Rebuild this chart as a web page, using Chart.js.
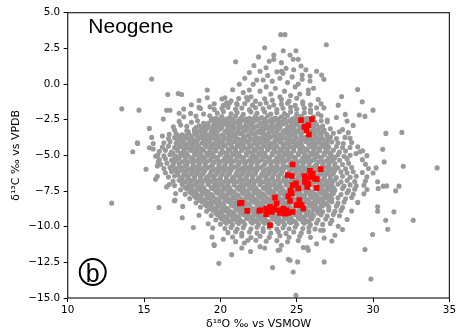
<!DOCTYPE html>
<html><head><meta charset="utf-8">
<script src="https://cdn.jsdelivr.net/npm/chart.js@4/dist/chart.umd.min.js"></script>
<style>html,body{margin:0;padding:0;background:#fff;}canvas{display:block;}</style>
</head><body>
<canvas id="c" width="458" height="331"></canvas>
<script>
const xTicks = [10, 15, 20, 25, 30, 35];
const yTicks = [5, 2.5, 0, -2.5, -5, -7.5, -10, -12.5, -15];
const panelTitle = 'Neogene';
const panelLetter = 'b';
const xTitle = 'δ¹⁸O ‰ vs VSMOW';
const yTitle = 'δ¹³C ‰ vs VPDB';

const greyUpper = [
[23.95,3.46],[24.23,3.46],[26.94,2.75],[22.9,2.54],[24.12,2.33],[24.95,2.33],[23.5,2.03],[23.5,1.73],[24.56,2.03],[24.77,1.73],[25.1,1.73],[23.2,1.6],[24.0,1.5],[21.0,1.56],[25.28,1.26],[22.99,1.14],[23.7,0.86],[24.0,0.9],[24.1,0.75],[25.36,0.63],[25.36,0.33],[25.87,0.56],[25.87,0.21],[26.63,0.63],[26.78,0.33],[22.38,0.28],[22.8,0.28],[15.5,0.35],[21.24,-0.02],[22.15,-0.02],[21.9,-0.42],[19.14,-0.42],[19.14,-0.96],[20.3,-0.96],[17.24,-0.66],[17.46,-0.73],[16.55,-0.73],[13.54,-1.74],[14.67,-1.83],[28.99,-0.38],[25.76,-0.42],[25.76,-0.66],[27.94,-0.87],[26.41,-1.08],[29.29,-1.25],[27.72,-1.48],[25.39,-1.25],[26.78,-1.67],[30.0,-1.83],[28.18,-2.13],[29.1,-2.18],[29.47,-2.27],[27.0,-2.53],
[22.2,1.3],[22.6,0.9],[23.1,0.6],[23.4,0.2],[23.9,0.4],[24.4,0.1],[24.7,0.5],[24.3,1.1],[23.0,-0.2],[23.6,-0.3],[24.9,-0.2],[22.6,-0.5],[24.2,-0.5],[25.1,0.0],[21.6,0.4],[21.9,0.8],[23.3,-0.7],[24.6,-0.8],[22.0,-0.9],[23.9,-0.9],[25.2,-0.7],[21.5,-0.6],[20.8,-0.4],[24.8,1.0],[22.5,1.9],[25.6,1.0],[26.1,-0.3],[26.3,0.9],[18.05,-2.06],[18.6,-1.64],[19.32,-1.6],[20.41,-1.32],[21.07,-1.36],[21.72,-0.94],[16.48,-1.84],[16.26,-2.46],[15.35,-3.11],[16.2,-3.65],[16.92,-3.0],[14.56,-4.12],[14.26,-4.75]
];

const greyCoreA = [
[18.6,-1.15],[20.1,-1.05],[20.7,-1.18],[21.2,-1.02],[21.8,-1.12],[22.3,-1.2],[22.9,-1.04],[23.4,-1.14],[24.0,-1.08],[24.5,-1.19],[25.0,-1.0],
[18.1,-1.45],[19.6,-1.38],[20.2,-1.5],[20.6,-1.33],[21.1,-1.44],[21.6,-1.36],[22.1,-1.48],[22.6,-1.4],[23.0,-1.31],[23.5,-1.47],[24.0,-1.42],[24.4,-1.35],[24.9,-1.5],[25.4,-1.4],[25.9,-1.46],[26.6,-1.38],
[16.7,-1.84],[17.6,-1.75],[18.7,-1.72],[19.6,-1.78],[20.1,-1.7],[20.5,-1.62],[21.0,-1.76],[21.4,-1.68],[21.9,-1.8],[22.3,-1.66],[22.8,-1.74],[23.2,-1.61],[23.7,-1.79],[24.1,-1.7],[24.6,-1.64],[25.0,-1.77],[25.5,-1.69],[25.9,-1.8],[26.3,-1.66],
[17.3,-2.05],[18.9,-2.1],[19.8,-2.04],[20.2,-1.93],[20.7,-2.08],[21.1,-2.0],[21.5,-2.12],[22.0,-1.96],[22.4,-2.05],[22.9,-1.94],[23.3,-2.1],[23.7,-2.0],[24.2,-2.07],[24.6,-1.95],[25.0,-2.1],[25.5,-2.02],[25.9,-1.97],[26.4,-2.08],
[17.6,-2.3],[18.4,-2.25],[19.3,-2.22],[19.7,-2.4],[20.1,-2.28],[20.6,-2.36],[21.0,-2.24],[21.4,-2.33],[21.9,-2.4],[22.3,-2.26],[22.7,-2.35],[23.1,-2.23],[23.6,-2.38],[24.0,-2.3],[24.4,-2.21],[24.9,-2.36],[25.3,-2.27],[25.7,-2.4],[26.1,-2.3],[26.6,-2.22],[27.6,-2.35],
[17.3,-2.62],[18.1,-2.68],[18.5,-2.58],[19.4,-2.53],[19.8,-2.64],[20.2,-2.57],[20.6,-2.7],[21.1,-2.6],[21.5,-2.52],[21.9,-2.65],[22.3,-2.56],[22.8,-2.68],[23.2,-2.59],[23.6,-2.51],[24.0,-2.66],[24.5,-2.58],[24.9,-2.7],[25.3,-2.6],[25.7,-2.55],[26.2,-2.67],[26.6,-2.57],[27.0,-2.65],[28.3,-2.6],
[17.4,-2.88],[17.8,-2.96],[18.6,-2.93],[19.0,-2.86],[19.5,-2.97],[19.9,-2.9],[20.3,-2.82],[20.7,-2.95],[21.2,-2.87],[21.6,-2.98],[22.0,-2.85],[22.4,-2.94],[22.9,-2.83],[23.3,-2.96],[23.7,-2.89],[24.1,-2.8],[24.6,-2.95],[25.0,-2.86],[25.4,-2.98],[25.8,-2.9],[26.3,-2.84],[26.7,-2.95],[28.7,-2.9],
[17.0,-3.22],[17.8,-3.27],[18.3,-3.18],[18.7,-3.25],[19.1,-3.12],[19.5,-3.24],[20.0,-3.16],[20.4,-3.28],[20.8,-3.2],[21.2,-3.11],[21.7,-3.24],[22.1,-3.17],[22.5,-3.28],[22.9,-3.13],[23.4,-3.22],[23.8,-3.15],[24.2,-3.27],[24.6,-3.18],[25.1,-3.24],[25.5,-3.12],[26.0,-3.26],[26.4,-3.17],[26.8,-3.23],[27.2,-3.14],[28.0,-3.2],
[15.5,-3.74],[16.65,-3.53],[17.1,-3.47],[17.5,-3.56],[17.9,-3.45],[18.4,-3.54],[18.8,-3.43],[19.2,-3.57],[19.6,-3.48],[20.1,-3.58],[20.5,-3.44],[20.9,-3.55],[21.3,-3.46],[21.8,-3.57],[22.2,-3.5],[22.6,-3.42],[23.0,-3.55],[23.5,-3.47],[23.9,-3.58],[24.3,-3.45],[24.7,-3.53],[25.2,-3.44],[26.0,-3.55],[26.5,-3.46],[26.96,-3.51],[27.4,-3.45],[27.79,-3.35],[28.38,-3.41],[30.84,-3.46],[31.89,-3.39],
[14.58,-4.17],[15.6,-4.17],[16.6,-3.82],[17.0,-3.76],[17.4,-3.86],[17.8,-3.78],[18.2,-3.88],[18.7,-3.74],[19.1,-3.84],[19.5,-3.77],[19.9,-3.88],[20.4,-3.79],[20.8,-3.72],[21.2,-3.85],[21.6,-3.76],[22.1,-3.87],[22.5,-3.78],[22.9,-3.84],[23.3,-3.73],[23.8,-3.86],[24.2,-3.77],[24.6,-3.88],[25.0,-3.8],[25.5,-3.75],[25.9,-3.86],[26.3,-3.78],[26.7,-3.85],[27.2,-3.74],[27.6,-3.83],[28.16,-3.74],[28.49,-3.81],
[16.3,-4.12],[16.7,-4.04],[17.1,-4.15],[17.5,-4.07],[17.9,-4.18],[18.3,-4.05],[18.8,-4.14],[19.2,-4.06],[19.6,-4.17],[20.0,-4.08],[20.5,-4.15],[20.9,-4.03],[21.3,-4.13],[21.7,-4.06],[22.2,-4.17],[22.6,-4.09],[23.0,-4.02],[23.4,-4.14],[23.9,-4.07],[24.3,-4.16],[24.7,-4.05],[25.1,-4.12],[25.6,-4.04],[26.0,-4.15],[26.4,-4.08],[26.8,-4.17],[27.3,-4.06],[27.7,-4.13],[28.05,-4.17],[28.6,-4.1],
[15.35,-4.47],[15.6,-4.56],[16.2,-4.42],[16.6,-4.36],[17.0,-4.46],[17.4,-4.38],[17.8,-4.48],[18.2,-4.35],[18.6,-4.44],[19.1,-4.37],[19.5,-4.47],[19.9,-4.4],[20.3,-4.33],[20.8,-4.45],[21.2,-4.36],[21.6,-4.48],[22.0,-4.39],[22.5,-4.46],[22.9,-4.35],[23.3,-4.44],[23.7,-4.37],[24.2,-4.48],[24.6,-4.4],[25.0,-4.33],[25.4,-4.46],[25.9,-4.38],[26.3,-4.47],[26.7,-4.36],[27.1,-4.44],[27.6,-4.38],[28.0,-4.45],[28.49,-4.45],[29.0,-4.4],[30.63,-4.57]
];

const greyCoreB = [
[16.0,-4.72],[16.4,-4.65],[16.8,-4.76],[17.2,-4.67],[17.6,-4.78],[18.1,-4.66],[18.5,-4.74],[18.9,-4.64],[19.3,-4.77],[19.7,-4.69],[20.2,-4.78],[20.6,-4.65],[21.0,-4.73],[21.4,-4.66],[21.9,-4.77],[22.3,-4.68],[22.7,-4.75],[23.1,-4.63],[23.6,-4.74],[24.0,-4.67],[24.4,-4.78],[24.8,-4.69],[25.3,-4.75],[25.7,-4.64],[26.1,-4.76],[26.5,-4.68],[27.0,-4.74],[27.4,-4.65],[27.8,-4.77],[28.2,-4.7],[28.88,-4.87],[29.14,-4.75],[29.32,-4.68],
[15.76,-5.06],[15.9,-4.98],[16.3,-5.04],[16.7,-4.95],[17.1,-5.07],[17.5,-4.97],[17.9,-5.05],[18.4,-4.94],[18.8,-5.06],[19.2,-4.98],[19.6,-5.08],[20.0,-4.96],[20.5,-5.03],[20.9,-4.94],[21.3,-5.07],[21.7,-4.99],[22.2,-5.05],[22.6,-4.95],[23.0,-5.08],[23.4,-4.97],[23.9,-5.04],[24.3,-4.96],[24.7,-5.07],[25.1,-4.98],[25.6,-5.05],[26.0,-4.94],[26.4,-5.06],[26.8,-4.97],[27.3,-5.04],[27.7,-4.95],[28.1,-5.07],[28.5,-4.99],[29.6,-5.02],
[15.93,-5.46],[16.0,-5.3],[16.4,-5.24],[16.8,-5.35],[17.2,-5.26],[17.7,-5.36],[18.1,-5.25],[18.5,-5.33],[18.9,-5.23],[19.3,-5.36],[19.8,-5.27],[20.2,-5.34],[20.6,-5.24],[21.0,-5.37],[21.5,-5.28],[21.9,-5.35],[22.3,-5.25],[22.7,-5.33],[23.2,-5.22],[23.6,-5.36],[24.0,-5.27],[24.4,-5.34],[24.9,-5.25],[25.3,-5.37],[25.7,-5.28],[26.1,-5.33],[26.6,-5.24],[27.0,-5.35],[27.4,-5.27],[27.8,-5.34],[28.3,-5.25],[29.3,-5.3],[30.73,-5.46],
[15.87,-5.74],[16.1,-5.62],[16.5,-5.55],[16.9,-5.66],[17.3,-5.57],[17.8,-5.67],[18.2,-5.54],[18.6,-5.64],[19.0,-5.56],[19.5,-5.67],[19.9,-5.58],[20.3,-5.65],[20.7,-5.53],[21.2,-5.64],[21.6,-5.57],[22.0,-5.68],[22.4,-5.55],[22.9,-5.63],[23.3,-5.54],[23.7,-5.66],[24.1,-5.58],[24.6,-5.65],[25.0,-5.55],[25.4,-5.67],[25.8,-5.57],[26.3,-5.64],[26.7,-5.53],[27.1,-5.66],[27.5,-5.58],[28.0,-5.64],[28.4,-5.56],[29.5,-5.62],[31.98,-5.76],[34.2,-5.88],
[15.13,-5.97],[16.3,-5.92],[16.7,-5.85],[17.1,-5.96],[17.5,-5.87],[18.0,-5.95],[18.4,-5.84],[18.8,-5.94],[19.2,-5.86],[19.7,-5.97],[20.1,-5.88],[20.5,-5.95],[20.9,-5.83],[21.4,-5.93],[21.8,-5.86],[22.2,-5.97],[22.6,-5.85],[23.1,-5.94],[23.5,-5.87],[23.9,-5.96],[24.3,-5.84],[24.8,-5.93],[25.2,-5.86],[25.6,-5.95],[26.0,-5.88],[26.5,-5.94],[26.9,-5.83],[27.3,-5.96],[27.7,-5.87],[28.2,-5.94],[28.6,-5.86],[29.7,-5.92],[30.2,-5.88],
[16.4,-6.22],[16.8,-6.14],[17.2,-6.25],[17.7,-6.16],[18.1,-6.27],[18.5,-6.15],[18.9,-6.24],[19.4,-6.13],[19.8,-6.26],[20.2,-6.17],[20.6,-6.25],[21.1,-6.14],[21.5,-6.23],[21.9,-6.16],[22.3,-6.27],[22.8,-6.15],[23.2,-6.24],[23.6,-6.13],[24.0,-6.26],[24.5,-6.17],[24.9,-6.25],[25.3,-6.15],[25.7,-6.23],[26.2,-6.14],[26.6,-6.26],[27.0,-6.17],[27.4,-6.25],[27.9,-6.16],[28.3,-6.23],[28.7,-6.15],[29.3,-6.2],[30.0,-6.24],
[15.87,-6.46],[15.76,-6.67],[16.6,-6.52],[17.0,-6.45],[17.4,-6.56],[17.8,-6.47],[18.3,-6.55],[18.7,-6.44],[19.1,-6.54],[19.5,-6.46],[20.0,-6.57],[20.4,-6.48],[20.8,-6.55],[21.2,-6.43],[21.7,-6.53],[22.1,-6.46],[22.5,-6.57],[22.9,-6.45],[23.4,-6.54],[23.8,-6.47],[24.2,-6.56],[24.6,-6.44],[25.1,-6.53],[25.5,-6.46],[25.9,-6.55],[26.3,-6.48],[26.8,-6.54],[27.2,-6.43],[27.6,-6.56],[28.0,-6.47],[28.5,-6.54],[28.9,-6.46],[29.6,-6.5],
[16.9,-6.82],[17.3,-6.75],[17.7,-6.86],[18.1,-6.77],[18.5,-6.85],[19.0,-6.74],[19.4,-6.84],[19.8,-6.76],[20.2,-6.87],[20.7,-6.78],[21.1,-6.85],[21.5,-6.73],[21.9,-6.83],[22.4,-6.76],[22.8,-6.87],[23.2,-6.75],[23.6,-6.84],[24.1,-6.77],[24.5,-6.86],[24.9,-6.74],[25.3,-6.83],[25.8,-6.76],[26.2,-6.85],[26.6,-6.78],[27.0,-6.84],[27.5,-6.73],[27.9,-6.86],[28.3,-6.77],[28.8,-6.83],[29.5,-6.8],[30.3,-6.85],
[16.48,-7.21],[16.65,-7.04],[17.0,-7.12],[17.5,-7.05],[17.9,-7.16],[18.3,-7.07],[18.7,-7.15],[19.2,-7.04],[19.6,-7.14],[20.0,-7.06],[20.4,-7.17],[20.9,-7.08],[21.3,-7.15],[21.7,-7.03],[22.1,-7.13],[22.6,-7.06],[23.0,-7.17],[23.4,-7.05],[23.8,-7.14],[24.3,-7.07],[24.7,-7.16],[25.1,-7.04],[25.5,-7.13],[26.0,-7.06],[26.4,-7.15],[26.8,-7.08],[27.2,-7.14],[27.7,-7.03],[28.1,-7.16],[28.5,-7.07],[28.9,-7.13],[29.4,-7.1],[30.67,-7.16],[30.89,-7.14],[31.7,-7.16],
[17.4,-7.42],[17.8,-7.35],[18.2,-7.46],[18.6,-7.37],[19.0,-7.45],[19.5,-7.34],[19.9,-7.44],[20.3,-7.36],[20.7,-7.47],[21.2,-7.38],[21.6,-7.45],[22.0,-7.33],[22.4,-7.43],[22.9,-7.36],[23.3,-7.47],[23.7,-7.35],[24.1,-7.44],[24.6,-7.37],[25.0,-7.46],[25.4,-7.34],[25.8,-7.43],[26.3,-7.36],[26.7,-7.45],[27.1,-7.38],[27.5,-7.44],[28.0,-7.33],[28.4,-7.46],[28.8,-7.37],[29.6,-7.4],[30.34,-7.32],[31.48,-7.49],
[17.07,-7.67],[17.7,-7.72],[18.1,-7.65],[18.5,-7.76],[18.9,-7.67],[19.4,-7.75],[19.8,-7.64],[20.2,-7.74],[20.6,-7.66],[21.1,-7.77],[21.5,-7.68],[21.9,-7.75],[22.3,-7.63],[22.8,-7.73],[23.2,-7.66],[23.6,-7.77],[24.0,-7.65],[24.5,-7.74],[24.9,-7.67],[25.3,-7.76],[25.7,-7.64],[26.2,-7.73],[26.6,-7.66],[27.0,-7.75],[27.4,-7.68],[27.9,-7.74],[28.3,-7.63],[28.7,-7.73],[29.4,-7.7]
];

const greyCoreC = [
[17.03,-8.14],[18.0,-8.02],[18.4,-7.95],[18.8,-8.06],[19.2,-7.97],[19.7,-8.05],[20.1,-7.94],[20.5,-8.04],[20.9,-7.96],[21.4,-8.07],[21.8,-7.98],[22.2,-8.05],[22.6,-7.93],[23.1,-8.03],[23.5,-7.96],[23.9,-8.07],[24.3,-7.95],[24.8,-8.04],[25.2,-7.97],[25.6,-8.06],[26.0,-7.94],[26.5,-8.03],[26.9,-7.96],[27.3,-8.05],[27.7,-7.98],[28.2,-8.04],[28.6,-7.95],
[12.88,-8.35],[16.98,-8.19],[18.4,-8.32],[18.8,-8.25],[19.2,-8.36],[19.6,-8.27],[20.0,-8.35],[20.5,-8.24],[20.9,-8.34],[21.3,-8.26],[21.7,-8.37],[22.2,-8.28],[22.6,-8.35],[23.0,-8.23],[23.4,-8.33],[23.9,-8.26],[24.3,-8.37],[24.7,-8.25],[25.1,-8.34],[25.6,-8.27],[26.0,-8.36],[26.4,-8.24],[26.8,-8.33],[27.3,-8.26],[27.7,-8.35],[28.1,-8.27],[29.0,-8.3],
[15.98,-8.66],[17.53,-8.58],[18.7,-8.62],[19.1,-8.55],[19.5,-8.66],[19.9,-8.57],[20.3,-8.65],[20.8,-8.54],[21.2,-8.64],[21.6,-8.56],[22.0,-8.67],[22.5,-8.58],[22.9,-8.65],[23.3,-8.53],[23.7,-8.63],[24.2,-8.56],[24.6,-8.67],[25.0,-8.55],[25.4,-8.64],[25.9,-8.57],[26.3,-8.66],[26.7,-8.54],[27.1,-8.63],[27.6,-8.56],[28.0,-8.65],[30.3,-8.61],
[19.1,-8.92],[19.5,-8.85],[19.9,-8.96],[20.3,-8.87],[20.7,-8.95],[21.2,-8.84],[21.6,-8.94],[22.0,-8.86],[22.4,-8.97],[22.9,-8.88],[23.3,-8.95],[23.7,-8.83],[24.1,-8.93],[24.6,-8.86],[25.0,-8.97],[25.4,-8.85],[25.8,-8.94],[26.3,-8.87],[26.7,-8.96],[27.1,-8.84],[27.5,-8.93],[27.9,-8.86],[28.6,-8.9],[30.3,-8.92],[31.37,-8.96],
[17.5,-9.37],[18.6,-9.2],[19.4,-9.22],[19.8,-9.15],[20.2,-9.26],[20.6,-9.17],[21.0,-9.25],[21.5,-9.14],[21.9,-9.24],[22.3,-9.16],[22.7,-9.27],[23.2,-9.18],[23.6,-9.25],[24.0,-9.13],[24.4,-9.23],[24.9,-9.16],[25.3,-9.27],[25.7,-9.15],[26.1,-9.24],[26.6,-9.17],[27.0,-9.26],[27.4,-9.14],[27.8,-9.23],
[19.7,-9.52],[20.1,-9.45],[20.5,-9.56],[20.9,-9.47],[21.3,-9.55],[21.8,-9.44],[22.2,-9.54],[22.6,-9.46],[23.0,-9.57],[23.5,-9.48],[23.9,-9.55],[24.3,-9.43],[24.7,-9.53],[25.2,-9.46],[25.6,-9.57],[26.0,-9.45],[26.4,-9.54],[26.9,-9.47],[27.3,-9.56],[28.3,-9.5],[30.83,-9.55],[32.63,-9.55],
[19.2,-9.8],[20.0,-9.82],[20.4,-9.75],[20.8,-9.86],[21.2,-9.77],[21.6,-9.85],[22.1,-9.74],[22.5,-9.84],[22.9,-9.76],[23.3,-9.87],[23.8,-9.78],[24.2,-9.85],[24.6,-9.73],[25.0,-9.83],[25.5,-9.76],[25.9,-9.87],[26.3,-9.75],[26.7,-9.84],[27.2,-9.77],[27.72,-9.97],
[18.23,-10.06],[19.5,-10.1],[20.3,-10.12],[20.7,-10.05],[21.1,-10.16],[21.5,-10.07],[22.0,-10.15],[22.4,-10.04],[22.8,-10.14],[23.2,-10.06],[23.7,-10.17],[24.1,-10.08],[24.5,-10.15],[24.9,-10.03],[25.4,-10.13],[25.8,-10.06],[26.2,-10.16],[26.57,-10.25],[26.74,-10.25],[30.96,-10.18],
[20.5,-10.42],[21.0,-10.35],[21.4,-10.46],[21.9,-10.37],[22.4,-10.45],[22.8,-10.34],[23.3,-10.44],[23.8,-10.36],[24.3,-10.47],[24.8,-10.38],[25.3,-10.45],[25.8,-10.35],[29.97,-10.55],
[19.45,-10.72],[20.19,-10.88],[20.8,-10.72],[21.4,-10.65],[22.0,-10.76],[22.6,-10.67],[23.2,-10.75],[23.9,-10.64],[24.5,-10.74],[25.2,-10.66],[25.9,-10.75],[26.8,-10.79]
];

// dense core, read row by row: [y, [x values]]
const greyFillRows = [
[-2.45, [19.5,19.9,20.4,20.8,21.3,21.7,22.1,22.5,22.9,23.4,23.8,24.2,24.7,25.1,25.5]],
[-2.75, [18.9,19.2,19.6,20.0,20.4,20.9,21.3,21.7,22.1,22.6,23.0,23.4,23.8,24.3,24.7,25.1,25.5,26.0]],
[-3.05, [18.4,18.8,19.2,19.7,20.1,20.5,20.9,21.4,21.8,22.2,22.7,23.1,23.5,23.9,24.4,24.8,25.2,26.1,26.5]],
[-3.35, [17.9,18.3,18.6,19.0,19.4,19.8,20.3,20.7,21.1,21.5,22.0,22.4,22.8,23.2,23.7,24.1,24.5,24.9,25.4,26.2,26.7]],
[-3.65, [17.3,17.7,18.1,18.5,18.9,19.3,19.8,20.2,20.6,21.0,21.5,21.9,22.3,22.8,23.2,23.6,24.0,24.5,24.9,25.3,25.7,26.2,26.6,27.0]],
[-3.95, [17.2,17.6,18.0,18.5,18.9,19.3,19.7,20.2,20.6,21.0,21.4,21.9,22.3,22.7,23.1,23.6,24.0,24.4,24.8,25.3,25.7,26.1,26.5,27.0]],
[-4.25, [17.3,17.7,18.1,18.5,19.0,19.4,19.8,20.2,20.7,21.1,21.5,21.9,22.4,22.8,23.2,23.6,24.1,24.5,24.9,25.3,25.8,26.2,26.6,27.0]],
[-4.55, [17.2,17.6,18.0,18.4,18.8,19.3,19.7,20.1,20.5,21.0,21.4,21.8,22.2,22.7,23.1,23.5,23.9,24.4,24.8,25.2,25.6,26.1,26.5,26.9]],
[-4.85, [16.9,17.4,17.8,18.3,18.7,19.1,19.5,20.0,20.4,20.8,21.2,21.7,22.1,22.5,22.9,23.4,23.8,24.2,24.6,25.1,25.5,25.9,26.3,26.8,27.2]],
[-5.15, [17.0,17.3,17.7,18.2,18.6,19.0,19.4,19.8,20.3,20.7,21.1,21.5,22.0,22.4,22.8,23.2,23.7,24.1,24.5,24.9,25.4,25.8,26.2,26.6,27.1,27.5]],
[-5.45, [17.0,17.5,17.9,18.3,18.7,19.1,19.6,20.0,20.4,20.8,21.3,21.7,22.1,22.5,23.0,23.4,23.8,24.2,24.7,25.1,25.5,25.9,26.4,26.8,27.2]],
[-5.75, [16.9,17.3,17.7,18.2,18.6,19.0,19.4,19.9,20.3,20.7,21.1,21.6,22.0,22.4,22.8,23.3,23.7,24.1,24.5,25.0,25.4,25.8,26.2,26.7,27.1,27.5]],
[-6.05, [17.0,17.4,17.8,18.2,18.6,19.0,19.5,19.9,20.3,20.7,21.2,21.6,22.0,22.4,22.9,23.3,23.7,24.1,24.6,25.0,25.4,25.8,26.3,26.7,27.1,27.5]],
[-6.35, [17.2,17.6,18.0,18.4,18.8,19.3,19.7,20.1,20.5,21.0,21.4,21.8,22.2,22.7,23.1,23.5,23.9,24.4,24.8,25.2,25.6,26.1,26.5,26.9,27.3]],
[-6.65, [17.5,17.9,18.3,18.7,19.2,19.6,20.0,20.4,20.9,21.3,21.7,22.1,22.6,23.0,23.4,23.8,24.3,24.7,25.1,25.5,26.0,26.4,26.8,27.2]],
[-6.95, [17.5,18.0,18.4,18.8,19.2,19.7,20.1,20.5,20.9,21.4,21.8,22.2,22.6,23.1,23.5,23.9,24.3,24.8,25.2,25.6,26.0,26.5,26.9,27.3]],
[-7.25, [17.7,18.1,18.5,18.9,19.4,19.8,20.2,20.6,21.1,21.5,21.9,22.3,22.8,23.2,23.6,24.0,24.5,24.9,25.3,25.7,26.2,26.6,27.0,27.4]],
[-7.55, [18.0,18.4,18.8,19.2,19.7,20.1,20.5,20.9,21.4,21.8,22.2,22.6,23.1,23.5,23.9,24.3,24.8,25.2,25.6,26.0,26.5,26.9,27.3]],
[-7.85, [18.3,18.7,19.1,19.5,20.0,20.4,20.8,21.2,21.7,22.1,22.5,22.9,23.4,23.8,24.2,24.6,25.1,25.5,25.9,26.3,26.8,27.2]],
[-8.15, [18.6,19.0,19.4,19.9,20.3,20.7,21.1,21.6,22.0,22.4,22.8,23.3,23.7,24.1,24.5,25.0,25.4,25.8,26.2,26.7,27.1]],
[-8.45, [19.0,19.4,19.8,20.2,20.7,21.1,21.5,21.9,22.4,22.8,23.2,23.6,24.1,24.5,24.9,25.3,25.8,26.2,26.6,27.0]],
[-8.75, [19.3,19.7,20.1,20.5,21.0,21.4,21.8,22.2,22.7,23.1,23.5,23.9,24.4,24.8,25.2,25.6,26.1,26.5]],
[-9.05, [19.7,20.1,20.5,20.9,21.3,21.8,22.2,22.6,23.0,23.5,23.9,24.3,24.7,25.2,25.6,26.0,26.4]],
[-9.35, [20.0,20.4,20.8,21.2,21.7,22.1,22.5,22.9,23.4,23.8,24.2,24.6,25.1,25.5,25.9]],
[-9.65, [20.3,20.7,21.1,21.5,22.0,22.4,22.8,23.2,23.7,24.1,24.5,24.9,25.4,25.8]]
];

const greyLower = [
[21.0,-11.05],[21.57,-11.14],[21.8,-10.95],[22.33,-10.95],[23.0,-11.02],[23.7,-10.98],[24.4,-11.06],[25.1,-10.97],[27.3,-11.0],[19.58,-11.25],[19.6,-11.32],[22.6,-11.4],[24.0,-11.3],[26.3,-11.2],[25.43,-11.46],[25.69,-11.46],[25.76,-11.65],[23.79,-11.65],[23.9,-11.62],[29.47,-11.6],[21.98,-11.74],[20.74,-11.96],[24.45,-12.28],[24.56,-12.35],[25.06,-12.47],[26.8,-12.47],[19.9,-12.57],[23.42,-12.87],[24.77,-13.18],[29.86,-13.67],[24.95,-14.81],[28.0,-10.2],[27.5,-10.6],[22.9,-11.5],[21.4,-11.5]
];

const redSquares = [
[25.28,-2.53],[26.0,-2.46],[25.5,-3.0],[25.76,-2.88],[25.65,-3.23],[25.8,-3.53],
[24.73,-5.64],[26.57,-5.97],[25.87,-6.09],[26.05,-6.27],[25.91,-6.51],[25.65,-6.62],[26.19,-6.62],[25.5,-6.46],[25.54,-6.86],[25.76,-7.02],[26.31,-6.67],[25.69,-7.21],[26.31,-7.28],
[24.41,-6.39],[24.67,-6.45],[24.95,-6.97],[25.1,-7.31],[24.6,-7.49],[24.73,-7.09],[24.45,-7.86],[24.67,-7.67],[24.56,-8.19],[25.17,-8.14],[25.0,-8.49],[25.32,-8.49],[25.43,-8.72],
[23.58,-7.96],[23.69,-8.37],[22.6,-8.85],[23.0,-8.73],[23.14,-8.85],[23.25,-8.61],[23.36,-8.96],[23.51,-8.73],[23.79,-8.85],[23.9,-9.04],[24.12,-8.73],[24.23,-9.08],[24.34,-8.85],[24.45,-9.04],[24.73,-8.97],[22.99,-9.13],[23.25,-9.9],
[21.39,-8.33],[21.28,-8.37],[21.76,-8.89],[22.55,-8.89]
];

const toXY = arr => arr.map(p => ({x: p[0], y: p[1]}));
const fillXY = [];
greyFillRows.forEach(([yv, xs]) => xs.forEach(xv => fillXY.push({x: xv, y: yv})));
const greyAll = toXY([].concat(greyUpper, greyCoreA, greyCoreB, greyCoreC, greyLower)).concat(fillXY);

const overlay = {
  id: 'overlay',
  afterDraw(chart) {
    const {ctx, chartArea: a, scales: {x, y}} = chart;
    ctx.save();
    ctx.strokeStyle = '#222';
    ctx.lineWidth = 1.2;
    ctx.strokeRect(a.left, a.top, a.right - a.left, a.bottom - a.top);
    ctx.fillStyle = '#000';
    ctx.font = '21px "Liberation Sans", Arial, sans-serif';
    ctx.textAlign = 'left';
    ctx.textBaseline = 'alphabetic';
    ctx.fillText(panelTitle, x.getPixelForValue(11.35), y.getPixelForValue(3.55));
    const cx = x.getPixelForValue(11.64), cy = y.getPixelForValue(-13.18);
    ctx.beginPath();
    ctx.lineWidth = 2;
    ctx.strokeStyle = '#000';
    ctx.arc(cx, cy, 13, 0, Math.PI * 2);
    ctx.stroke();
    ctx.font = '25px "Liberation Sans", Arial, sans-serif';
    ctx.textAlign = 'center';
    ctx.fillText(panelLetter, cx, cy + 9.5);
    ctx.restore();
  }
};

const tickFont = {family: '"DejaVu Sans", sans-serif', size: 10.4};
const titleFont = {family: '"DejaVu Sans", sans-serif', size: 11};

new Chart(document.getElementById('c'), {
  type: 'scatter',
  data: {
    datasets: [
      {label: 'red', data: toXY(redSquares), pointStyle: 'rect', pointRadius: 4, backgroundColor: '#ff0000', borderWidth: 0},
      {label: 'grey', data: greyAll, pointStyle: 'circle', pointRadius: 2.55, backgroundColor: '#999999', borderWidth: 0}
    ]
  },
  options: {
    responsive: false,
    devicePixelRatio: 1,
    animation: false,
    layout: {autoPadding: false, padding: {top: 12.7, right: 8, left: 0, bottom: 0}},
    plugins: {legend: {display: false}, tooltip: {enabled: false}},
    elements: {point: {hoverRadius: 0}},
    scales: {
      x: {
        type: 'linear', min: 10, max: 35,
        afterBuildTicks: s => { s.ticks = xTicks.map(v => ({value: v})); },
        ticks: {color: '#000', font: tickFont, padding: 2, maxRotation: 0, callback: v => String(v)},
        grid: {display: true, drawOnChartArea: false, drawTicks: true, tickLength: 4, color: '#000', lineWidth: 1},
        border: {display: false},
        title: {display: true, text: xTitle, color: '#000', font: titleFont, padding: {top: 0, bottom: 0}},
        afterFit: s => { s.height = 33; }
      },
      y: {
        type: 'linear', min: -15, max: 5,
        afterBuildTicks: s => { s.ticks = yTicks.map(v => ({value: v})); },
        ticks: {color: '#000', font: tickFont, padding: 3.5, callback: v => v.toFixed(1).replace('-', '\u2212')},
        grid: {display: true, drawOnChartArea: false, drawTicks: true, tickLength: 4, color: '#000', lineWidth: 1},
        border: {display: false},
        title: {display: true, text: yTitle, color: '#000', font: titleFont, padding: {top: 10, bottom: 0}},
        afterFit: s => { s.width = 67.7; }
      }
    }
  },
  plugins: [overlay]
});
</script>
</body></html>
